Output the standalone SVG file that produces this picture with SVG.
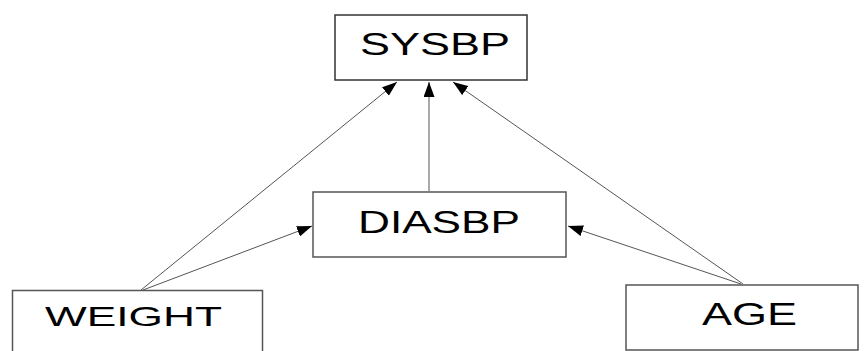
<svg xmlns="http://www.w3.org/2000/svg" width="865" height="351" viewBox="0 0 865 351">
  <style>
    .box { fill: #ffffff; stroke: #555555; stroke-width: 1.5; }
    .label { font-family: "Liberation Sans", Arial, sans-serif; font-size: 31px; fill: #000000; }
    .edge { stroke: #555555; stroke-width: 1; fill: none; marker-end: url(#arrow); }
  </style>
  <defs>
    <marker id="arrow" viewBox="0 0 15 11" refX="15" refY="5.5" markerWidth="15" markerHeight="11" markerUnits="userSpaceOnUse" orient="auto">
      <path d="M0,0 L15,5.5 L0,11 Z" fill="#000000"/>
    </marker>
  </defs>
  <rect width="865" height="351" fill="#ffffff"/>

  <g id="connectors">
    <line class="edge" x1="141" y1="290" x2="397" y2="82"/>
    <line class="edge" x1="143" y1="290" x2="312" y2="226"/>
    <line class="edge" x1="429" y1="191" x2="429" y2="82"/>
    <line class="edge" x1="743" y1="284" x2="453" y2="82"/>
    <line class="edge" x1="741" y1="284" x2="568" y2="226"/>
  </g>

  <g id="sysbp">
    <rect class="box" x="335" y="15" width="192" height="65" style="stroke:#333333"/>
    <text class="label" x="360" y="55" textLength="150" lengthAdjust="spacingAndGlyphs">SYSBP</text>
  </g>

  <g id="diasbp">
    <rect class="box" x="313" y="192" width="253" height="65"/>
    <text class="label" x="358" y="233" textLength="162" lengthAdjust="spacingAndGlyphs">DIASBP</text>
  </g>

  <g id="weight">
    <rect class="box" x="12.5" y="290.5" width="250" height="70"/>
    <text class="label" x="45" y="326" textLength="177" lengthAdjust="spacingAndGlyphs" style="font-size:28px">WEIGHT</text>
  </g>

  <g id="age">
    <rect class="box" x="626" y="285" width="232" height="65"/>
    <text class="label" x="702" y="325" textLength="95" lengthAdjust="spacingAndGlyphs">AGE</text>
  </g>
</svg>
